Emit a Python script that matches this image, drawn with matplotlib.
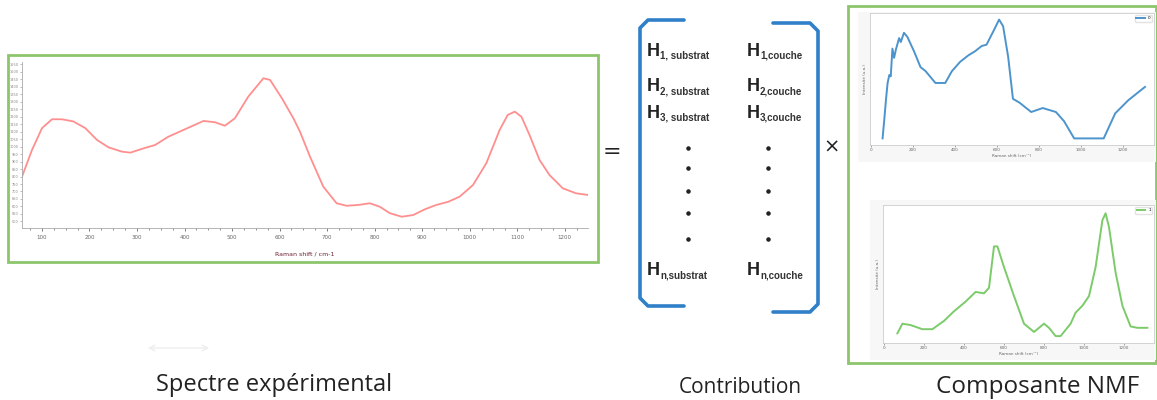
import numpy as np
import matplotlib.pyplot as plt
import matplotlib
from matplotlib.patches import Rectangle

matplotlib.rcParams['font.family'] = ['DejaVu Sans']
matplotlib.rcParams['mathtext.fontset'] = 'dejavusans'

# spectre expérimental (TiO2 + verre), intensité normalisée
exp_x = [58, 79, 100, 121, 142, 166, 191, 216, 240, 268, 286, 314, 338, 366,
         401, 440, 464, 485, 506, 534, 566, 580, 605, 629, 643, 664, 692, 720,
         741, 766, 790, 811, 832, 857, 881, 906, 930, 955, 979, 1007, 1035,
         1063, 1080, 1095, 1109, 1126, 1147, 1168, 1196, 1224, 1249]
exp_y = [0.309, 0.470, 0.601, 0.655, 0.655, 0.642, 0.602, 0.530, 0.486, 0.460,
         0.454, 0.480, 0.500, 0.550, 0.595, 0.645, 0.637, 0.616, 0.661, 0.791,
         0.902, 0.892, 0.781, 0.661, 0.580, 0.430, 0.249, 0.149, 0.134, 0.139,
         0.149, 0.128, 0.089, 0.068, 0.078, 0.113, 0.139, 0.158, 0.189, 0.259,
         0.390, 0.590, 0.681, 0.701, 0.670, 0.560, 0.410, 0.319, 0.239, 0.209,
         0.199]

# composante NMF 1 : TiO2
tio2_x = [55, 63, 71, 79, 87, 94, 102, 110, 118, 134, 142, 157, 173, 205, 236,
          260, 307, 354, 386, 425, 465, 496, 528, 551, 583, 611, 630, 654, 677,
          709, 764, 819, 882, 921, 969, 1110, 1165, 1228, 1307]
tio2_y = [0.05, 0.19, 0.34, 0.47, 0.53, 0.52, 0.73, 0.66, 0.72, 0.81, 0.78,
          0.85, 0.82, 0.71, 0.59, 0.56, 0.47, 0.47, 0.56, 0.63, 0.68, 0.71,
          0.75, 0.76, 0.86, 0.95, 0.90, 0.67, 0.35, 0.32, 0.25, 0.28, 0.25,
          0.18, 0.05, 0.05, 0.24, 0.34, 0.44]

# composante NMF 2 : verre
verre_x = [67, 92, 133, 192, 242, 300, 350, 408, 458, 500, 525, 550, 567, 600,
           650, 700, 750, 800, 825, 858, 883, 933, 958, 992, 1025, 1058, 1092,
           1108, 1125, 1158, 1192, 1233, 1267, 1317]
verre_y = [0.07, 0.14, 0.13, 0.10, 0.10, 0.16, 0.23, 0.30, 0.37, 0.36, 0.40,
           0.70, 0.70, 0.55, 0.34, 0.14, 0.08, 0.14, 0.11, 0.05, 0.05, 0.14,
           0.22, 0.27, 0.34, 0.55, 0.89, 0.94, 0.84, 0.51, 0.27, 0.12, 0.11,
           0.11]

exp_ticks = [100, 200, 300, 400, 500, 600, 700, 800, 900, 1000, 1100, 1200]
nmf_ticks = [0, 200, 400, 600, 800, 1000, 1200]
row_idx = ['1', '2', '3', 'n']
bottom_labels = ['Spectre expérimental', 'Contribution', 'Composante NMF']

W, H = 1157, 400
green = '#8dc56c'
blue = '#2f80c8'


def rect(x0, y0, x1, y1):
    return [x0 / W, 1 - y1 / H, (x1 - x0) / W, (y1 - y0) / H]


fig = plt.figure(figsize=(W / 100, H / 100), dpi=100)

# calque en pixels pour cadres, crochets et textes
ov = fig.add_axes([0, 0, 1, 1])
ov.set_xlim(0, W)
ov.set_ylim(H, 0)
ov.axis('off')

ov.add_patch(Rectangle((8, 55), 590, 207, fill=False, ec=green, lw=2))
ov.add_patch(Rectangle((848, 6), 308, 357, fill=False, ec=green, lw=2))
ov.add_patch(Rectangle((858, 12), 298, 150, fc='#f7f7f7', ec='none'))
ov.add_patch(Rectangle((870, 200), 286, 160, fc='#f7f7f7', ec='none'))

# spectre expérimental
ax1 = fig.add_axes(rect(22, 62, 588, 228))
ax1.plot(exp_x, exp_y, color='#ff8f8f', lw=1.3)
ax1.set_xlim(58, 1249)
ax1.set_ylim(0, 1)
ax1.set_xticks(exp_ticks)
ax1.set_xticks(np.arange(75, 1249, 25), minor=True)
ax1.set_yticks(np.arange(0.04, 1.0, 0.045))
ax1.set_yticklabels(['%d' % v for v in np.arange(0, 22) * 50 + 500])
ax1.tick_params(axis='x', labelsize=4, colors='#666666', length=2, width=0.6,
                pad=3)
ax1.tick_params(axis='x', which='minor', length=1.5, width=0.5, colors='#666666')
ax1.tick_params(axis='y', labelsize=2.5, colors='#888888', length=1.5,
                width=0.4, pad=1)
ax1.set_xlabel('Raman shift / cm-1', fontsize=4.5, color='#6a2030', labelpad=8)
for s in ax1.spines.values():
    s.set_color('#aaaaaa')
    s.set_linewidth(0.6)
ax1.spines['top'].set_visible(False)
ax1.spines['right'].set_visible(False)
ov.text(492, 87, 'TiO$_2$ + Verre', fontsize=12.5, ha='center', va='center',
        color='#333333')

# composante TiO2
ax2 = fig.add_axes(rect(870, 13, 1154, 145))
ax2.plot(tio2_x, tio2_y, color='#4d94cc', lw=1.4, label='0')
ax2.set_xlim(-5, 1350)
ax2.set_ylim(0, 1)
ax2.set_xticks(nmf_ticks)
ax2.set_yticks([])
ax2.tick_params(labelsize=3, colors='#666666', length=1.5, width=0.4, pad=1)
ax2.set_xlabel('Raman shift (cm⁻¹)', fontsize=3, color='#666666', labelpad=1)
ax2.set_ylabel('Intensité (u.a.)', fontsize=3, color='#666666', labelpad=2)
for s in ax2.spines.values():
    s.set_color('#cccccc')
    s.set_linewidth(0.6)
ax2.legend(loc='upper right', fontsize=3, frameon=True, handlelength=2,
           borderpad=0.3, edgecolor='#dddddd')
ov.text(1100, 46, 'TiO$_2$', fontsize=17, ha='center', va='center',
        color='#222222')

# composante verre
ax3 = fig.add_axes(rect(883, 205, 1154, 343))
ax3.plot(verre_x, verre_y, color='#7ccb6a', lw=1.4, label='1')
ax3.set_xlim(-5, 1350)
ax3.set_ylim(0, 1)
ax3.set_xticks(nmf_ticks)
ax3.set_yticks([])
ax3.tick_params(labelsize=3, colors='#666666', length=1.5, width=0.4, pad=1)
ax3.set_xlabel('Raman shift (cm⁻¹)', fontsize=3, color='#666666', labelpad=1)
ax3.set_ylabel('Intensité (u.a.)', fontsize=3, color='#666666', labelpad=2)
for s in ax3.spines.values():
    s.set_color('#cccccc')
    s.set_linewidth(0.6)
ax3.legend(loc='upper right', fontsize=3, frameon=True, handlelength=2,
           borderpad=0.3, edgecolor='#dddddd')
ov.text(963, 229, 'Verre', fontsize=15, ha='center', va='center',
        color='#222222')

# signes de l'équation
ov.text(612, 152, '=', fontsize=16, ha='center', va='center', color='#222222')
ov.text(832, 147, '×', fontsize=14, ha='center', va='center', color='#222222')

# crochets de la matrice
ov.plot([684, 648, 640, 640, 648, 684], [20, 20, 28, 298, 306, 306],
        color=blue, lw=2.6, solid_capstyle='round', solid_joinstyle='round')
ov.plot([773, 810, 818, 818, 810, 773], [23, 23, 31, 304, 312, 312],
        color=blue, lw=2.6, solid_capstyle='round', solid_joinstyle='round')

# coefficients H
row_base = [56, 91, 118, 275]
for idx, yb in zip(row_idx, row_base):
    left_sub = idx + (', substrat' if idx != 'n' else ',substrat')
    for xh, sub in [(647, left_sub), (747, idx + ',couche')]:
        ov.text(xh, yb, 'H', fontsize=13, fontweight='bold',
                family='Liberation Sans', ha='left', va='baseline',
                color='#222222')
        ov.text(xh + 13, yb + 3, sub, fontsize=7, fontweight='bold',
                family='Liberation Sans', ha='left', va='baseline',
                color='#333333')
dots_y = [148, 168, 191, 213, 239]
ov.scatter([688] * 5, dots_y, s=5, color='#222222')
ov.scatter([768] * 5, dots_y, s=5, color='#222222')

# petite flèche très pâle sous le spectre
ov.annotate('', xy=(212, 348), xytext=(145, 348),
            arrowprops=dict(arrowstyle='<->', color='#eeeeee', lw=1))

# légendes du bas
for lab, xc, yb, fs in zip(bottom_labels, [274, 740, 1038], [391, 393, 393],
                           [17, 15, 17.5]):
    ov.text(xc, yb, lab, fontsize=fs, ha='center', va='baseline',
            family='Open Sans', color='#222222')

fig.savefig('out.png', dpi=100)
